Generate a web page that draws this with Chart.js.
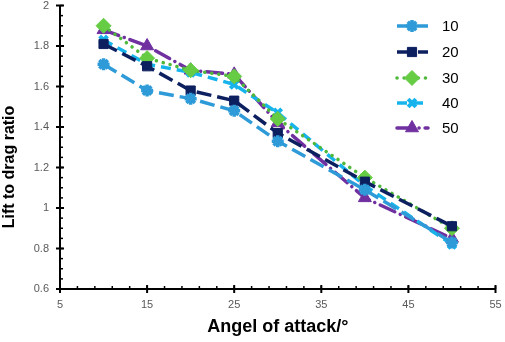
<!DOCTYPE html>
<html>
<head>
<meta charset="utf-8">
<script src="https://cdn.jsdelivr.net/npm/chart.js@4.4.1/dist/chart.umd.min.js"></script>
<style>
html,body{margin:0;padding:0;background:#fff;overflow:hidden;}
#wrap{width:505px;height:342px;position:relative;overflow:hidden;}
#c{position:absolute;left:0;top:-4px;}
</style>
</head>
<body>
<div id="wrap"><canvas id="c" width="505" height="346"></canvas></div>
<script>
const angles = [10, 15, 20, 25, 30, 40, 50];
const seriesNames = ['10', '20', '30', '40', '50'];
const s10 = [1.71, 1.58, 1.54, 1.48, 1.33, 1.09, 0.83];
const s20 = [1.81, 1.70, 1.58, 1.53, 1.37, 1.13, 0.91];
const s30 = [1.90, 1.74, 1.68, 1.65, 1.44, 1.15, 0.90];
const s40 = [1.83, 1.71, 1.67, 1.61, 1.47, 1.11, 0.82];
const s50 = [1.88, 1.80, 1.68, 1.66, 1.42, 1.05, 0.85];
const xTicks = [5, 15, 25, 35, 45, 55];
const yTicks = [0.6, 0.8, 1, 1.2, 1.4, 1.6, 1.8, 2];
const xTitle = 'Angel of attack/°';
const yTitle = 'Lift to drag ratio';

const styles = [
  {color:'#2e9bd8', dash:[15,6], cap:'butt', point:'star', r:6, pw:3.5},
  {color:'#0c1f5f', dash:[15,6], cap:'butt', point:'rect', r:6.5, pw:1},
  {color:'#4fb83a', pcolor:'#66cc44', dash:[0.1,7], cap:'round', point:'rectRot', r:7.5, pw:1},
  {color:'#17b4ec', dash:[10,6], cap:'butt', point:'crossRot', r:5.5, pw:4},
  {color:'#7030a0', dash:[16,6,0.1,6], cap:'round', point:'triangle', r:7.5, pw:1}
];
const values = [s10, s20, s30, s40, s50];

const datasets = values.map((v, i) => {
  const st = styles[i];
  const pc = st.pcolor || st.color;
  return {
    label: seriesNames[i],
    data: angles.map((a, j) => ({x: a, y: v[j]})),
    borderColor: st.color,
    backgroundColor: pc,
    borderWidth: 3.5,
    borderDash: st.dash,
    borderCapStyle: st.cap,
    pointStyle: st.point,
    pointRadius: st.r,
    pointBorderWidth: st.pw,
    pointBorderColor: pc,
    pointBackgroundColor: pc,
    tension: 0,
    fill: false
  };
});

const FONT = '"Liberation Sans", Arial, sans-serif';

const tickPlugin = {
  id: 'ticksAndLegend',
  afterDraw(chart) {
    const ctx = chart.ctx;
    const xs = chart.scales.x, ys = chart.scales.y;
    const area = chart.chartArea;
    ctx.save();
    ctx.strokeStyle = '#000';
    for (let v = 5; v <= 55.001; v += 2) {
      const px = xs.getPixelForValue(v);
      ctx.lineWidth = 1.5;
      ctx.beginPath(); ctx.moveTo(px, area.bottom); ctx.lineTo(px, area.bottom - 3); ctx.stroke();
    }
    xTicks.forEach(v => {
      const px = xs.getPixelForValue(v);
      ctx.lineWidth = 2;
      ctx.beginPath(); ctx.moveTo(px, area.bottom - 4); ctx.lineTo(px, area.bottom + 4); ctx.stroke();
    });
    for (let v = 0.6; v <= 2.0001; v += 0.05) {
      const py = ys.getPixelForValue(v);
      ctx.lineWidth = 1.5;
      ctx.beginPath(); ctx.moveTo(area.left, py); ctx.lineTo(area.left + 3, py); ctx.stroke();
    }
    yTicks.forEach(v => {
      const py = ys.getPixelForValue(v);
      ctx.lineWidth = 2;
      ctx.beginPath(); ctx.moveTo(area.left - 4, py); ctx.lineTo(area.left + 4, py); ctx.stroke();
    });
    ctx.save();
    ctx.translate(10, 171);
    ctx.rotate(-Math.PI / 2);
    ctx.fillStyle = '#000';
    ctx.font = 'bold 16px ' + FONT;
    ctx.textAlign = 'center';
    ctx.textBaseline = 'middle';
    ctx.fillText(yTitle, 0, 0);
    ctx.restore();
    const rows = [30, 56, 82, 107, 132];
    chart.data.datasets.forEach((ds, i) => {
      const y = rows[i];
      ctx.save();
      ctx.strokeStyle = ds.borderColor;
      ctx.lineWidth = 3.5;
      ctx.lineCap = ds.borderCapStyle;
      ctx.setLineDash(ds.borderDash);
      ctx.beginPath(); ctx.moveTo(397, y); ctx.lineTo(428, y); ctx.stroke();
      ctx.restore();
      ctx.save();
      ctx.fillStyle = ds.pointBackgroundColor;
      ctx.strokeStyle = ds.pointBorderColor;
      ctx.lineWidth = ds.pointBorderWidth;
      ctx.setLineDash([]);
      Chart.helpers.drawPoint(ctx, {
        pointStyle: ds.pointStyle, radius: ds.pointRadius, borderWidth: ds.pointBorderWidth, rotation: 0
      }, 412, y);
      ctx.restore();
      ctx.fillStyle = '#000';
      ctx.font = '15px ' + FONT;
      ctx.textAlign = 'left';
      ctx.textBaseline = 'middle';
      ctx.fillText(ds.label, 442, y + 1);
    });
    ctx.restore();
  }
};

new Chart(document.getElementById('c'), {
  type: 'line',
  data: { datasets },
  options: {
    responsive: false,
    animation: false,
    layout: { padding: { top: 1, right: 8, left: 0, bottom: 0 } },
    plugins: { legend: { display: false }, tooltip: { enabled: false } },
    scales: {
      x: {
        type: 'linear', min: 5, max: 55,
        afterBuildTicks: s => { s.ticks = xTicks.map(v => ({value: v})); },
        afterFit: s => { s.height = 53; s.paddingRight = 0; s.paddingLeft = 0; },
        grid: { display: false, drawTicks: false },
        border: { display: true, color: '#000', width: 2 },
        ticks: { color: '#595959', font: { size: 11, family: FONT }, padding: 9, maxRotation: 0,
          callback: v => String(Math.round(v * 100) / 100) },
        title: { display: true, text: xTitle, color: '#000',
          font: { size: 18, weight: 'bold', family: FONT }, padding: { top: 4 } }
      },
      y: {
        type: 'linear', min: 0.6, max: 2,
        afterBuildTicks: s => { s.ticks = yTicks.map(v => ({value: v})); },
        afterFit: s => { s.width = 60; s.paddingTop = 0; s.paddingBottom = 0; },
        grid: { display: false, drawTicks: false },
        border: { display: true, color: '#000', width: 2 },
        ticks: { color: '#595959', font: { size: 11, family: FONT }, padding: 11,
          callback: v => String(Math.round(v * 100) / 100) },
        title: { display: false }
      }
    }
  },
  plugins: [tickPlugin]
});
</script>
</body>
</html>
